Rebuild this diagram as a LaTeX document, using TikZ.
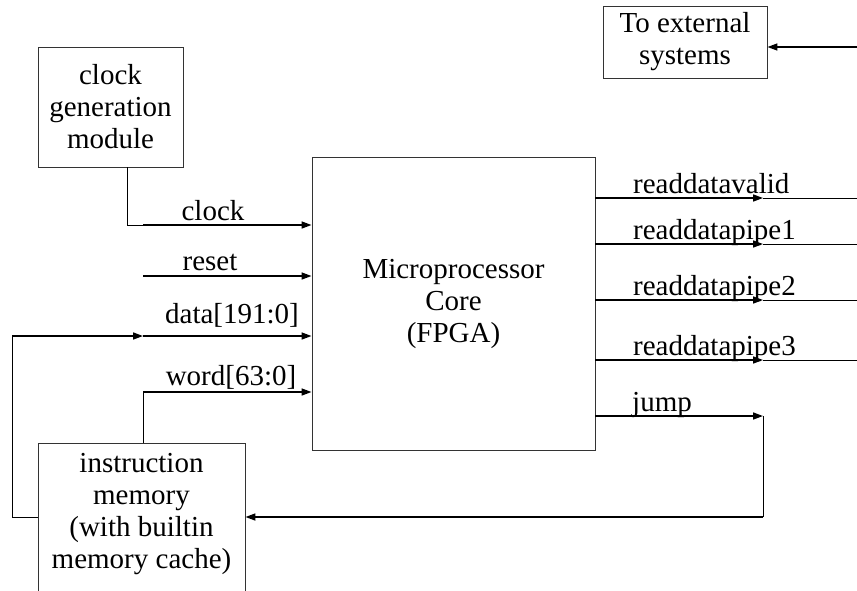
\documentclass[tikz,border=0pt]{standalone}
\usepackage{fontspec}
\setmainfont{Liberation Serif}
\usetikzlibrary{arrows.meta}
\begin{document}
\begin{tikzpicture}[x=1pt,y=-1pt,
  box/.style={draw=black!80, line width=0.9pt, align=center, inner sep=0pt, font=\fontsize{29}{32}\selectfont},
  lbl/.style={font=\fontsize{29}{32}\selectfont, inner sep=0pt, align=center},
  sig/.style={line width=1.6pt, -{Triangle[length=10pt,width=7pt]}},
  wire/.style={line width=0.8pt},
]
\useasboundingbox (0,0) rectangle (857,590);
\clip (0,0) rectangle (857,590);

% boxes
\node[box, minimum width=145, minimum height=120] (clk) at (110.5,107) {clock\\generation\\module};
\node[box, minimum width=283, minimum height=293] (core) at (453.5,303.5) {Microprocessor\\Core\\(FPGA)};
\node[box, minimum width=207, minimum height=157] (imem) at (141.5,521.5) {};
\node[lbl] (imemt) at (141.5,514) {instruction\\memory\\(with builtin\\memory cache)};
\node[box, minimum width=164, minimum height=72] (ext) at (685,42) {To external\\systems};

% coordinates
\coordinate (clkbend) at (127,225);
\coordinate (clkin) at (143,225);
\coordinate (rstin) at (143,276);
\coordinate (dataleft) at (12,336);
\coordinate (datamid) at (143,336);
\coordinate (wordbend) at (143,392);
\coordinate (imemin) at (12,517);
\coordinate (o1) at (763,198); \coordinate (o1e) at (857,198);
\coordinate (o2) at (763,244); \coordinate (o2e) at (857,244);
\coordinate (o3) at (763,300); \coordinate (o3e) at (857,300);
\coordinate (o4) at (763,360); \coordinate (o4e) at (857,360);
\coordinate (jmp) at (763,416);
\coordinate (jmpdown) at (763,517);
\coordinate (extin) at (857,47);

% inputs
\draw[wire] (clk.south -| clkbend) -- (clkbend) -- (clkin);
\draw[sig] (clkin) -- (core.west |- clkin);
\draw[sig] (rstin) -- (core.west |- rstin);
\draw[wire] (imem.west |- imemin) -- (imemin) -- (dataleft);
\draw[sig] (dataleft) -- (datamid);
\draw[sig] (datamid) -- (core.west |- datamid);
\draw[wire] (imem.north -| wordbend) -- (wordbend);
\draw[sig] (wordbend) -- (core.west |- wordbend);

% outputs
\foreach \o in {o1,o2,o3,o4}{
  \draw[sig] (core.east |- \o) -- (\o);
  \draw[wire] (\o) -- (\o e);
}
\draw[sig] (core.east |- jmp) -- (jmp);
\draw[wire] (jmp) -- (jmpdown);
\draw[sig] (jmpdown) -- (imem.east |- jmpdown);
\draw[sig] (extin) -- (ext.east |- extin);

% labels
\node[lbl, anchor=base] (lclk) at (213,220) {clock};
\node[lbl, anchor=base] (lrst) at (210,270) {reset};
\node[lbl, anchor=base] (ldata) at (232,323) {data[191:0]};
\node[lbl, anchor=base] (lword) at (231,385) {word[63:0]};
\node[lbl, anchor=base west] (l1) at (633,193) {readdatavalid};
\node[lbl, anchor=base west] (l2) at (633,239) {readdatapipe1};
\node[lbl, anchor=base west] (l3) at (633,295) {readdatapipe2};
\node[lbl, anchor=base west] (l4) at (633,355) {readdatapipe3};
\node[lbl, anchor=base west] (l5) at (632,411) {jump};
\end{tikzpicture}
\end{document}
